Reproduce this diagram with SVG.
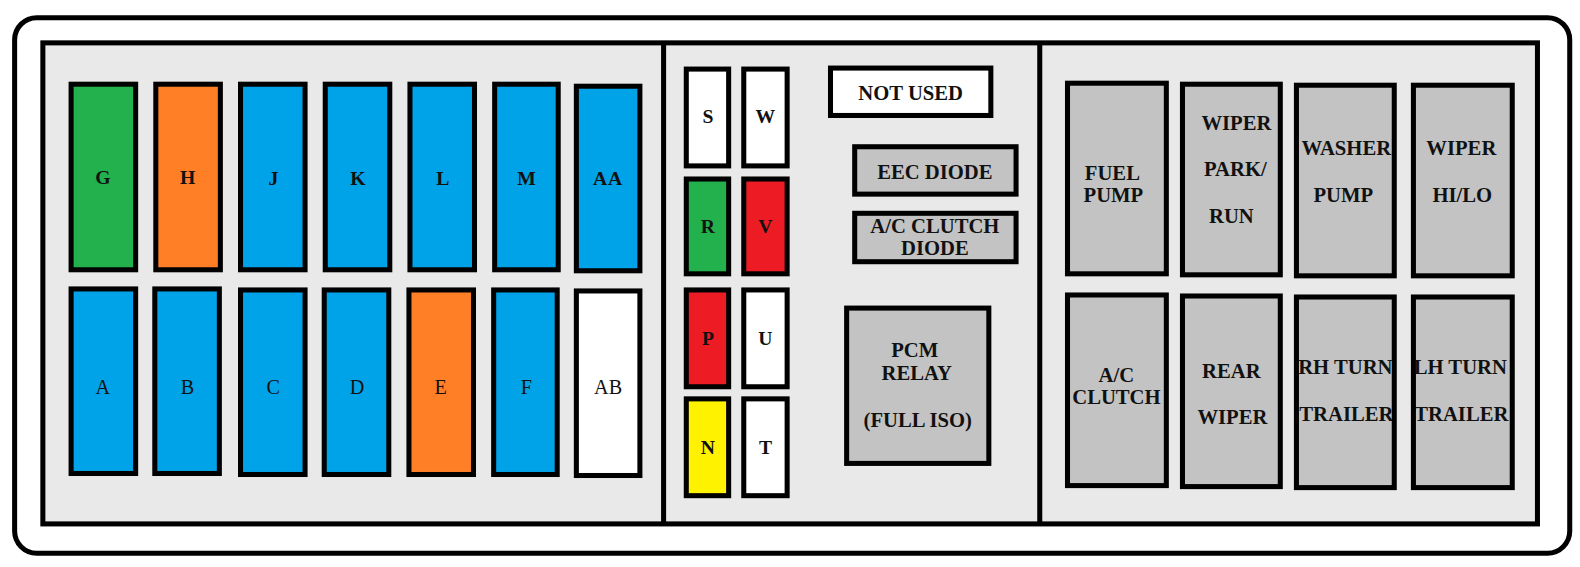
<svg xmlns="http://www.w3.org/2000/svg" width="1580" height="567" viewBox="0 0 1580 567">
<style>
.b{stroke:#000;stroke-width:5}
.so{fill:none;stroke:#000;stroke-width:5}
.bl{fill:#00a2e8}.gr{fill:#22b14c}.or{fill:#ff7f27}.rd{fill:#ed1c24}.ye{fill:#fff200}.wh{fill:#fff}.gy{fill:#c3c3c3}
text{font-family:"Liberation Serif","Times New Roman",serif;font-weight:bold;font-size:20.5px;fill:#111;text-anchor:middle}
.l{font-size:19.5px}
.n{font-weight:normal;font-size:20px}
</style>
<g transform="scale(1.0085)">
<rect x="14.5" y="17.5" width="1542" height="531" rx="22" fill="#fff" stroke="#000" stroke-width="5"/>
<rect x="42.5" y="42.5" width="1482" height="477" fill="#e9e9e9" stroke="#000" stroke-width="5"/>
<g id="connectors">
<line x1="658" y1="42" x2="658" y2="520" stroke="#000" stroke-width="5"/>
<line x1="1031" y1="42" x2="1031" y2="520" stroke="#000" stroke-width="5"/>
</g>
<g id="G"><rect class="b gr" x="70.5" y="83.5" width="64" height="184"/><text class="l" x="102" y="182">G</text></g>
<g id="H"><rect class="b or" x="154.5" y="83.5" width="64" height="184"/><text class="l" x="186" y="182">H</text></g>
<g id="J"><rect class="b bl" x="238.5" y="83.5" width="64" height="184"/><text class="l" x="271" y="183">J</text></g>
<g id="K"><rect class="b bl" x="322.5" y="83.5" width="64" height="184"/><text class="l" x="355" y="183">K</text></g>
<g id="L"><rect class="b bl" x="406.5" y="83.5" width="64" height="184"/><text class="l" x="439" y="183">L</text></g>
<g id="M"><rect class="b bl" x="490.5" y="83.5" width="63" height="184"/><text class="l" x="522" y="183">M</text></g>
<g id="AA"><rect class="b bl" x="571.5" y="85.5" width="63" height="183"/><text class="l" x="603" y="183" letter-spacing="1">AA</text></g>
<g id="A"><rect class="b bl" x="70.5" y="286.5" width="64" height="183"/><text class="n" x="102" y="391">A</text></g>
<g id="B"><rect class="b bl" x="153.5" y="286.5" width="64" height="183"/><text class="n" x="186" y="391">B</text></g>
<g id="C"><rect class="b bl" x="238.5" y="287.5" width="64" height="183"/><text class="n" x="271" y="391">C</text></g>
<g id="D"><rect class="b bl" x="321.5" y="287.5" width="64" height="183"/><text class="n" x="354" y="391">D</text></g>
<g id="E"><rect class="b or" x="405.5" y="287.5" width="64" height="183"/><text class="n" x="437" y="391">E</text></g>
<g id="F"><rect class="b bl" x="489.5" y="287.5" width="63" height="183"/><text class="n" x="522" y="391">F</text></g>
<g id="AB"><rect class="b wh" x="571.5" y="288.5" width="63" height="183"/><text class="n" x="603" y="391">AB</text></g>
<g id="S"><rect class="b wh" x="680.5" y="68.5" width="42" height="96"/><text class="l" x="702" y="122">S</text></g>
<g id="W"><rect class="b wh" x="737.5" y="68.5" width="43" height="96"/><text class="l" x="759" y="122">W</text></g>
<g id="R"><rect class="b gr" x="680.5" y="177.5" width="42" height="94"/><text class="l" x="702" y="231">R</text></g>
<g id="V"><rect class="b rd" x="737.5" y="177.5" width="43" height="94"/><text class="l" x="759" y="231">V</text></g>
<g id="P"><rect class="b rd" x="680.5" y="287.5" width="42" height="96"/><text class="l" x="702" y="342">P</text></g>
<g id="U"><rect class="b wh" x="737.5" y="287.5" width="43" height="96"/><text class="l" x="759" y="342">U</text></g>
<g id="N"><rect class="b ye" x="680.5" y="395.5" width="42" height="96"/><text class="l" x="702" y="450">N</text></g>
<g id="T"><rect class="b wh" x="737.5" y="395.5" width="43" height="96"/><text class="l" x="759" y="450">T</text></g>
<g id="not-used"><rect class="b wh" x="823.5" y="67.5" width="159" height="47"/><text x="903" y="99">NOT USED</text></g>
<g id="eec-diode"><rect class="b gy" x="847.5" y="145.5" width="160" height="47"/><text x="927" y="177">EEC DIODE</text></g>
<g id="ac-clutch-diode"><rect class="b gy" x="847.5" y="211.5" width="160" height="48"/><text x="927" y="231">A/C CLUTCH</text><text x="927" y="253">DIODE</text></g>
<g id="pcm-relay"><rect class="b gy" x="839.5" y="305.5" width="141" height="154"/><text x="907" y="354">PCM</text><text x="909" y="377">RELAY</text><text x="910" y="423">(FULL ISO)</text></g>
<g id="fuel-pump"><rect class="b gy" x="1058.5" y="82.5" width="98" height="189"/><text x="1103" y="178">FUEL</text><text x="1104" y="200">PUMP</text></g>
<g id="wiper-park-run"><rect class="b gy" x="1172.5" y="83.5" width="97" height="189"/><text x="1226" y="129">WIPER</text><text x="1225" y="175">PARK/</text><text x="1221" y="221">RUN</text></g>
<g id="washer-pump"><rect class="b gy" x="1285.5" y="84.5" width="97" height="189"/><text x="1335" y="154">WASHER</text><text x="1332" y="200">PUMP</text></g>
<g id="wiper-hi-lo"><rect class="b gy" x="1401.5" y="84.5" width="98" height="189"/><text x="1449" y="154">WIPER</text><text x="1450" y="200">HI/LO</text></g>
<g id="ac-clutch"><rect class="b gy" x="1058.5" y="292.5" width="98" height="189"/><text x="1107" y="379">A/C</text><text x="1107" y="401">CLUTCH</text></g>
<g id="rear-wiper"><rect class="b gy" x="1172.5" y="293.5" width="97" height="189"/><text x="1221" y="375">REAR</text><text x="1222" y="420">WIPER</text></g>
<g id="rh-turn-trailer"><rect class="gy" x="1285.5" y="294.5" width="97" height="189"/><text x="1334" y="371">RH TURN</text><text x="1335" y="417">TRAILER</text><rect class="so" x="1285.5" y="294.5" width="97" height="189"/></g>
<g id="lh-turn-trailer"><rect class="gy" x="1401.5" y="294.5" width="98" height="189"/><text x="1448" y="371">LH TURN</text><text x="1449" y="417">TRAILER</text><rect class="so" x="1401.5" y="294.5" width="98" height="189"/></g>
</g>
</svg>
